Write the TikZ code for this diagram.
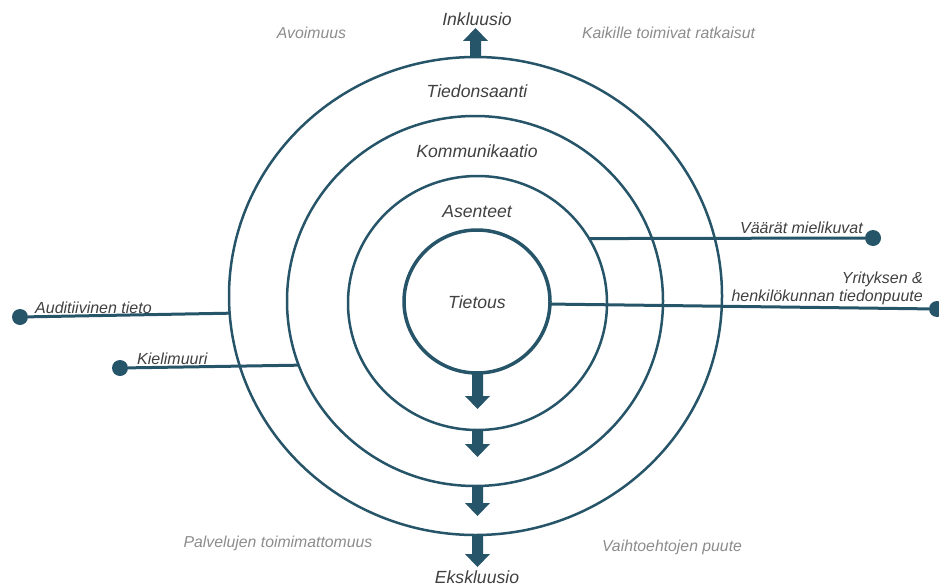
\documentclass[tikz,border=0pt]{standalone}
\usepackage{fontspec}
\setmainfont{Liberation Sans}
\usetikzlibrary{shapes.geometric}
\definecolor{ring}{HTML}{265468}
\definecolor{txt}{HTML}{404040}
\definecolor{soft}{HTML}{8C8C8C}
\tikzset{
  ringnode/.style={ellipse, draw=ring, line width=2.5pt, inner sep=0pt, outer sep=0pt},
  lbl/.style={font=\itshape\fontsize{17.6}{20}\selectfont, text=txt, inner sep=0pt, anchor=base},
  smalllbl/.style={font=\itshape\fontsize{16}{19}\selectfont, text=txt, inner sep=0pt},
  softlbl/.style={font=\itshape\fontsize{15.8}{19}\selectfont, text=soft, inner sep=0pt, anchor=base},
  enddot/.style={circle, fill=ring, minimum size=16pt, inner sep=0pt, outer sep=0pt},
  link/.style={draw=ring, line width=3pt},
}
\newcommand{\blockarr}[4]{%
  \fill[ring] (#1-5.5,#2) -- (#1+5.5,#2) -- (#1+5.5,#3-#4*13) -- (#1+12.5,#3-#4*13)
    -- (#1,#3) -- (#1-12.5,#3-#4*13) -- (#1-5.5,#3-#4*13) -- cycle;}
\begin{document}
\begin{tikzpicture}[x=1pt,y=-1pt]
\useasboundingbox (0,0) rectangle (939,586);

% rings
\node[ringnode, minimum width=493pt, minimum height=478pt] (c1) at (475.5,296) {};
\node[ringnode, minimum width=376pt, minimum height=370pt] (c2) at (475,301) {};
\node[ringnode, minimum width=259pt, minimum height=254pt] (c3) at (477.5,303) {};
\node[ringnode, line width=3.5pt, minimum width=146pt, minimum height=143pt] (c4) at (477,301.5) {};

% block arrows
\blockarr{475.5}{58}{28}{-1}
\blockarr{477.5}{373}{409}{1}
\blockarr{477.5}{430}{457}{1}
\blockarr{477.5}{486}{516}{1}
\blockarr{477.5}{535}{567}{1}

% main labels
\node[lbl] (inkl) at (477,26) {Inkluusio};
\node[lbl] (ekskl) at (477,583) {Ekskluusio};
\node[lbl] (tiedon) at (477,97) {Tiedonsaanti};
\node[lbl] (komm) at (477,157) {Kommunikaatio};
\node[lbl] (asen) at (477,217) {Asenteet};
\node[lbl] (tiet) at (477,308) {Tietous};

% corner labels
\node[softlbl] (avo) at (311.5,38) {Avoimuus};
\node[softlbl] (kaik) at (668.5,39) {Kaikille toimivat ratkaisut};
\node[softlbl] (palv) at (278,547) {Palvelujen toimimattomuus};
\node[softlbl] (vaiht) at (672,551) {Vaihtoehtojen puute};

% connectors
\node[enddot] (vdot) at (873,238) {};
\draw[link] (vdot) -- (c3.30.24);
\node[smalllbl, anchor=base east] (vlbl) at (863,233) {Väärät mielikuvat};

\node[enddot] (ydot) at (937,309) {};
\draw[link] (ydot) -- (c4.-2.7);
\node[smalllbl, anchor=base east] (ylbl1) at (923,283) {Yrityksen \&};
\node[smalllbl, anchor=base east] (ylbl2) at (923,301) {henkilökunnan tiedonpuute};

\node[enddot] (adot) at (20,317) {};
\draw[link] (adot) -- (c1.184.9);
\node[smalllbl, anchor=base west] (albl) at (35,313) {Auditiivinen tieto};

\node[enddot] (kdot) at (120,368) {};
\draw[link] (kdot) -- (c2.200.95);
\node[smalllbl, anchor=base west] (klbl) at (137,364) {Kielimuuri};
\end{tikzpicture}
\end{document}
